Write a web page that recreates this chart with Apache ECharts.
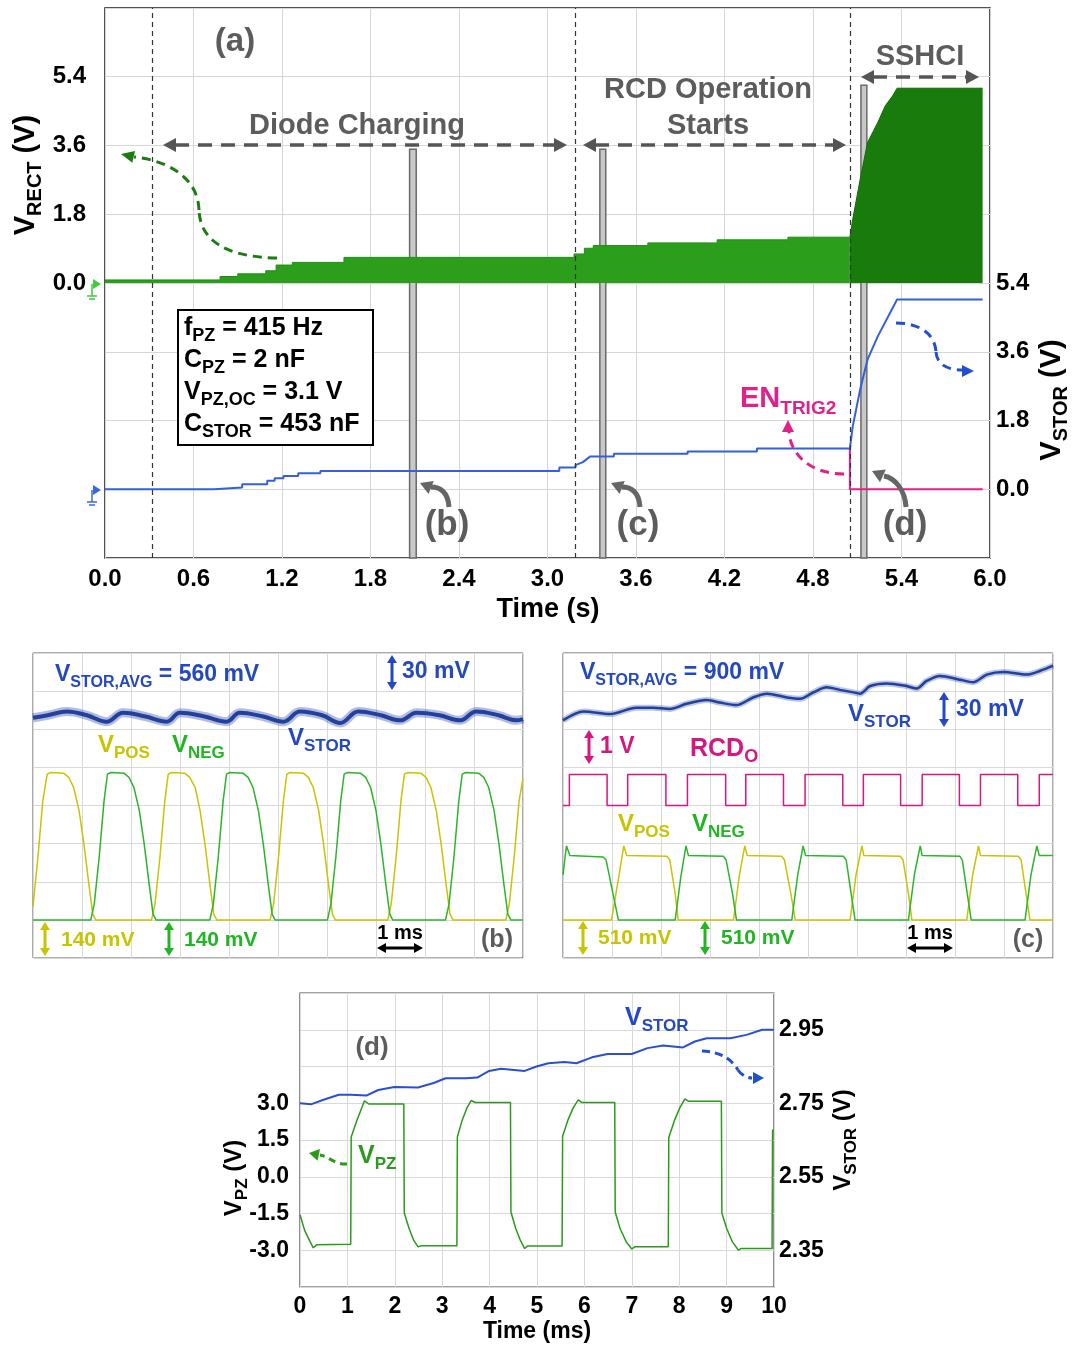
<!DOCTYPE html>
<html><head><meta charset="utf-8">
<script src="https://cdn.jsdelivr.net/npm/echarts@6/dist/echarts.min.js"></script>
<style>html,body{margin:0;padding:0;background:#fff}#c{width:1076px;height:1349px}</style>
</head><body><div id="c"></div>
<script>
const FF = '"Liberation Sans", Arial, Helvetica, sans-serif';

// ================= DATA =================
// Panel (a): time in s
const rectDiode = [[0,0.08],[0.78,0.08],[0.78,0.17],[0.90,0.17],[0.90,0.24],[1.09,0.24],[1.09,0.32],[1.16,0.32],[1.16,0.47],[1.27,0.47],[1.27,0.54],[1.62,0.54],[1.62,0.67],[3.18,0.67],[3.18,0.76],[3.25,0.76],[3.25,0.91],[3.31,0.91],[3.31,0.98],[3.68,0.98],[3.68,1.05],[4.15,1.05],[4.15,1.13],[4.63,1.13],[4.63,1.20],[5.05,1.20]];
const rectSSHCI = [[5.05,1.20],[5.07,1.68],[5.12,2.72],[5.17,3.68],[5.24,4.21],[5.29,4.64],[5.34,4.90],[5.37,5.10],[5.95,5.10]];
const storA = [[0,0],[0.74,0],[0.74,0.045],[0.93,0.045],[0.93,0.13],[1.10,0.13],[1.10,0.22],[1.15,0.22],[1.15,0.29],[1.21,0.29],[1.21,0.35],[1.31,0.35],[1.31,0.42],[1.46,0.42],[1.46,0.48],[3.08,0.48],[3.08,0.57],[3.19,0.57],[3.19,0.63],[3.24,0.71],[3.29,0.86],[3.45,0.86],[3.45,0.93],[3.95,0.93],[3.95,0.99],[4.42,0.99],[4.42,1.07],[5.05,1.07],[5.07,1.66],[5.12,2.62],[5.17,3.40],[5.24,4.01],[5.37,4.97],[5.95,4.97]];
const enTrigA = [[5.05,1.07],[5.05,0],[5.95,0]];
const phaseLines = [0.315, 3.19, 5.05];
const cursorBars = [[2.065,2.11,3.5],[3.355,3.395,3.5],[5.125,5.165,5.18]];
const aTimeTicks = ['0.0','0.6','1.2','1.8','2.4','3.0','3.6','4.2','4.8','5.4','6.0'];

// Panel (b): time in ms
const storB = [[0,0.559],[0.3,0.561],[0.69,0.564],[1.1,0.561],[1.5,0.556],[1.84,0.563],[2.3,0.560],[2.73,0.556],[3.0,0.563],[3.5,0.560],[3.95,0.556],[4.22,0.563],[4.7,0.560],[5.11,0.556],[5.45,0.564],[5.9,0.561],[6.27,0.555],[6.64,0.564],[7.1,0.561],[7.49,0.557],[7.83,0.563],[8.3,0.561],[8.71,0.557],[9.05,0.564],[9.5,0.561],[9.87,0.557],[10,0.558]];
const posB = [[0,0.05],[0.1,0.229],[0.2,0.437],[0.29,0.535],[0.36,0.541],[0.63,0.538],[0.73,0.523],[0.83,0.486],[0.94,0.401],[1.04,0.278],[1.14,0.131],[1.22,0.021],[1.28,0],
  [2.42,0],[2.49,0.058],[2.59,0.229],[2.69,0.437],[2.76,0.535],[2.83,0.541],[3.10,0.538],[3.20,0.523],[3.31,0.486],[3.41,0.401],[3.51,0.278],[3.61,0.131],[3.69,0.021],[3.75,0],
  [4.84,0],[4.91,0.058],[5.01,0.229],[5.11,0.437],[5.18,0.535],[5.25,0.541],[5.52,0.538],[5.62,0.523],[5.72,0.486],[5.83,0.401],[5.93,0.278],[6.03,0.131],[6.11,0.021],[6.17,0],
  [7.24,0],[7.31,0.058],[7.41,0.229],[7.51,0.437],[7.58,0.535],[7.65,0.541],[7.92,0.538],[8.02,0.523],[8.12,0.486],[8.23,0.401],[8.33,0.278],[8.43,0.131],[8.51,0.021],[8.57,0],
  [9.65,0],[9.72,0.058],[9.82,0.229],[9.92,0.437],[10,0.52]];
const negB = [[0,0],[1.18,0],[1.25,0.058],[1.35,0.229],[1.45,0.437],[1.52,0.535],[1.59,0.541],[1.86,0.538],[1.96,0.523],[2.06,0.486],[2.17,0.401],[2.27,0.278],[2.37,0.131],[2.45,0.021],[2.51,0],
  [3.61,0],[3.68,0.058],[3.78,0.229],[3.88,0.437],[3.95,0.535],[4.02,0.541],[4.29,0.538],[4.39,0.523],[4.49,0.486],[4.60,0.401],[4.70,0.278],[4.80,0.131],[4.88,0.021],[4.94,0],
  [6.01,0],[6.08,0.058],[6.18,0.229],[6.28,0.437],[6.35,0.535],[6.42,0.541],[6.69,0.538],[6.79,0.523],[6.89,0.486],[7.00,0.401],[7.10,0.278],[7.20,0.131],[7.28,0.021],[7.34,0],
  [8.42,0],[8.49,0.058],[8.59,0.229],[8.69,0.437],[8.76,0.535],[8.83,0.541],[9.10,0.538],[9.20,0.523],[9.30,0.486],[9.41,0.401],[9.51,0.278],[9.61,0.131],[9.69,0.021],[9.75,0],[10,0]];

// Panel (c): time in ms
const storC = [[0,0.877],[0.42,0.884],[0.96,0.882],[1.50,0.887],[1.84,0.887],[2.18,0.886],[2.52,0.890],[2.93,0.893],[3.20,0.891],[3.54,0.889],[3.88,0.895],[4.16,0.898],[4.57,0.895],[4.84,0.894],[5.11,0.899],[5.38,0.903],[5.65,0.901],[5.93,0.899],[6.06,0.898],[6.27,0.904],[6.61,0.906],[7.01,0.904],[7.22,0.902],[7.42,0.908],[7.69,0.912],[8.10,0.909],[8.37,0.907],[8.65,0.913],[8.99,0.915],[9.46,0.913],[9.74,0.916],[10,0.920]];
const rcdC = [[0,0],[0.13,0],[0.13,0.81],[0.90,0.81],[0.90,0],[1.32,0],[1.32,0.81],[2.10,0.81],[2.10,0],[2.54,0],[2.54,0.81],[3.32,0.81],[3.32,0],[3.73,0],[3.73,0.81],[4.50,0.81],[4.50,0],[4.94,0],[4.94,0.81],[5.71,0.81],[5.71,0],[6.13,0],[6.13,0.81],[6.89,0.81],[6.89,0],[7.33,0],[7.33,0.81],[8.09,0.81],[8.09,0],[8.52,0],[8.52,0.81],[9.28,0.81],[9.28,0],[9.72,0],[9.72,0.81],[10,0.81]];
const negC = [[0,0.6],[0.07,0.99],[0.14,0.86],[0.82,0.84],[0.88,0.80],[1.02,0.35],[1.13,0],
  [2.29,0],[2.41,0.6],[2.51,0.99],[2.56,0.86],[3.27,0.85],[3.33,0.80],[3.46,0.35],[3.54,0],
  [4.67,0],[4.79,0.6],[4.90,0.99],[4.95,0.86],[5.72,0.85],[5.78,0.80],[5.88,0.35],[5.96,0],
  [7.05,0],[7.17,0.6],[7.29,0.99],[7.33,0.86],[8.10,0.85],[8.15,0.80],[8.25,0.35],[8.33,0],
  [9.43,0],[9.55,0.6],[9.67,0.99],[9.72,0.86],[10,0.86]];
const posC = [[0,0],[0.99,0],[1.12,0.5],[1.24,0.99],[1.30,0.86],[2.12,0.85],[2.18,0.80],[2.29,0.35],[2.35,0],
  [3.48,0],[3.60,0.6],[3.71,0.99],[3.76,0.86],[4.46,0.85],[4.52,0.80],[4.65,0.35],[4.74,0],
  [5.86,0],[5.98,0.6],[6.10,0.99],[6.14,0.86],[6.88,0.85],[6.94,0.80],[7.05,0.35],[7.12,0],
  [8.24,0],[8.36,0.6],[8.48,0.99],[8.52,0.86],[9.29,0.85],[9.35,0.80],[9.45,0.35],[9.53,0],[10,0]];

// Panel (d): time in ms
const storD = [[0,2.75],[0.23,2.747],[0.48,2.759],[0.82,2.773],[1.07,2.773],[1.40,2.771],[1.65,2.786],[1.99,2.794],[2.49,2.793],[2.82,2.805],[3.07,2.818],[3.49,2.818],[3.74,2.820],[3.99,2.838],[4.24,2.844],[4.74,2.838],[4.99,2.850],[5.24,2.859],[5.58,2.862],[5.83,2.859],[6.16,2.875],[6.49,2.884],[7.0,2.884],[7.33,2.900],[7.66,2.907],[8.08,2.902],[8.33,2.918],[8.58,2.927],[9.08,2.927],[9.42,2.936],[9.75,2.950],[10,2.950]];
const vpzD = [[0,-1.55],[0.1,-2.2],[0.2,-2.6],[0.28,-2.9],[0.35,-2.78],[1.07,-2.76],[1.08,1.62],[1.2,2.3],[1.3,2.8],[1.36,3.1],[1.45,2.97],[2.19,2.97],[2.2,-1.48],[2.3,-2.1],[2.4,-2.6],[2.49,-2.86],[2.55,-2.82],[3.31,-2.82],[3.32,1.62],[3.42,2.3],[3.52,2.8],[3.61,3.11],[3.7,3.03],[4.44,3.03],[4.45,-1.44],[4.55,-2.1],[4.65,-2.6],[4.74,-2.93],[4.8,-2.83],[5.53,-2.83],[5.54,1.65],[5.65,2.3],[5.76,2.8],[5.87,3.14],[5.95,3.03],[6.64,3.03],[6.65,-1.44],[6.75,-2.1],[6.88,-2.65],[7.0,-2.95],[7.06,-2.86],[7.77,-2.86],[7.78,1.6],[7.9,2.3],[8.01,2.8],[8.12,3.18],[8.2,3.08],[8.89,3.08],[8.9,-1.48],[9.0,-2.1],[9.12,-2.65],[9.25,-3.0],[9.3,-2.93],[9.96,-2.93],[9.97,1.9],[10,1.9]];

// ================= STYLE =================
const BL = '#2448c0', YE = '#c8c400', GR = '#22b522', MG = '#d6177f', GRAY = '#5c5c5c';
const MGA = '#e0218a', BLA = '#3461d9';

const mctx = document.createElement('canvas').getContext('2d');
function tw(str, size) { mctx.font = 'bold ' + size + 'px ' + FF; return mctx.measureText(str).width; }
// text with subscripts: segs = [[text, isSub], ...]; y = centre of the main text
function rtext(x, y, segs, o) {
  const m = o.size, s = o.sub || Math.round(m * 0.68), off = (o.off != null) ? o.off : 0.34 * m;
  let cx = 0; const kids = [];
  segs.forEach(g => {
    const sz = g[1] ? s : m;
    kids.push({type: 'text', x: cx, y: g[1] ? off : 0, z: 100,
      style: {text: g[0], font: 'bold ' + sz + 'px ' + FF, fill: o.color, align: 'left', verticalAlign: 'middle'}});
    cx += tw(g[0], sz);
  });
  const shift = o.align === 'center' ? -cx / 2 : (o.align === 'right' ? -cx : 0);
  kids.forEach(k => { k.x += shift; });
  return {type: 'group', x: x, y: y, rotation: o.rot || 0, z: 100, children: kids};
}
function plain(x, y, str, size, color, align) {
  return {type: 'text', x: x, y: y, z: 100, style: {text: str, font: 'bold ' + size + 'px ' + FF, fill: color, align: align || 'left', verticalAlign: 'middle'}};
}
function head(x, y, ang, len, wid, color) {
  const c = Math.cos(ang), s = Math.sin(ang);
  return {type: 'polygon', z: 100, shape: {points: [[x, y], [x - len * c - wid * s, y - len * s + wid * c], [x - len * c + wid * s, y - len * s - wid * c]]}, style: {fill: color}};
}
function line(x1, y1, x2, y2, color, w, dash) {
  return {type: 'line', z: 100, shape: {x1, y1, x2, y2}, style: {stroke: color, lineWidth: w, lineDash: dash || null}};
}
function bez(p0, p1, p2, p3, color, w, dash) {
  return {type: 'bezierCurve', z: 100, shape: {x1: p0[0], y1: p0[1], cpx1: p1[0], cpy1: p1[1], cpx2: p2[0], cpy2: p2[1], x2: p3[0], y2: p3[1]}, style: {stroke: color, lineWidth: w, lineDash: dash || null, fill: null}};
}
function hDouble(x1, x2, y, color, w, dash, L, W) {
  return [line(x1 + L - 1, y, x2 - L + 1, y, color, w, dash), head(x1, y, Math.PI, L, W, color), head(x2, y, 0, L, W, color)];
}
function vDouble(x, y1, y2, color) {
  return [line(x, y1 + 7, x, y2 - 7, color, 3), head(x, y1, -Math.PI / 2, 8, 5, color), head(x, y2, Math.PI / 2, 8, 5, color)];
}

const G = [];
// ---- panel (a) annotations
G.push(plain(235, 42, '(a)', 33, GRAY, 'center'));
G.push(plain(357, 126, 'Diode Charging', 29, GRAY, 'center'));
G.push(plain(708, 90, 'RCD Operation', 29, GRAY, 'center'));
G.push(plain(708, 126, 'Starts', 29, GRAY, 'center'));
G.push(plain(920, 57, 'SSHCI', 29, GRAY, 'center'));
G.push(...hDouble(163, 567, 145, '#555', 3.5, [14, 9], 13, 7));
G.push(...hDouble(583, 846, 145, '#555', 3.5, [14, 9], 13, 7));
G.push(...hDouble(861, 979, 77, '#555', 3.5, [14, 9], 13, 7));
G.push(bez([277, 258], [225, 257], [200, 240], [199, 210], '#1e7a12', 3, [9, 6]));
G.push(bez([199, 210], [198, 176], [165, 160], [134, 157], '#1e7a12', 3, [9, 6]));
G.push(head(121, 154, Math.atan2(-3, -13), 13, 6, '#1e7a12'));
G.push(bez([896, 323], [918, 323], [935, 333], [936, 352], '#2050d0', 3, [9, 6]));
G.push(bez([936, 352], [937, 366], [950, 370], [962, 370], '#2050d0', 3, [9, 6]));
G.push(head(974, 371, 0, 12, 6, '#2050d0'));
G.push(bez([844, 474], [808, 474], [790, 452], [789, 432], MGA, 3, [9, 6]));
G.push(head(788, 420, -Math.PI / 2, 12, 6, MGA));
G.push(rtext(740, 399, [['EN'], ['TRIG2', 1]], {size: 29, sub: 19, color: MGA}));
G.push(bez([449, 507], [448, 492], [440, 487], [431, 487], '#666', 5));
G.push(head(420, 483, Math.atan2(-4, -10), 12, 7, '#666'));
G.push(bez([640, 507], [639, 492], [631, 487], [622, 487], '#666', 5));
G.push(head(611, 483, Math.atan2(-4, -10), 12, 7, '#666'));
G.push(bez([906, 507], [905, 490], [895, 478], [884, 476], '#666', 5));
G.push(head(872, 471, Math.atan2(-5, -11), 12, 7, '#666'));
G.push(plain(447, 525, '(b)', 35, GRAY, 'center'));
G.push(plain(638, 525, '(c)', 35, GRAY, 'center'));
G.push(plain(905, 525, '(d)', 35, GRAY, 'center'));
G.push({type: 'rect', z: 100, shape: {x: 178, y: 310, width: 195, height: 135}, style: {fill: '#fff', stroke: '#000', lineWidth: 2}});
G.push(rtext(184, 328, [['f'], ['PZ', 1], [' = 415 Hz']], {size: 25, sub: 18, color: '#000'}));
G.push(rtext(184, 360, [['C'], ['PZ', 1], [' = 2 nF']], {size: 25, sub: 18, color: '#000'}));
G.push(rtext(184, 392, [['V'], ['PZ,OC', 1], [' = 3.1 V']], {size: 25, sub: 18, color: '#000'}));
G.push(rtext(184, 424, [['C'], ['STOR', 1], [' = 453 nF']], {size: 25, sub: 18, color: '#000'}));
G.push(rtext(26, 175, [['V'], ['RECT', 1], [' (V)']], {size: 29, sub: 20, color: '#000', rot: Math.PI / 2, align: 'center'}));
G.push(rtext(1052, 400, [['V'], ['STOR', 1], [' (V)']], {size: 29, sub: 20, color: '#000', rot: Math.PI / 2, align: 'center'}));
G.push(plain(548, 610, 'Time (s)', 27, '#000', 'center'));
G.push(head(101, 284, 0, 8, 5, '#3ccc3c'), line(92, 284, 92, 296, '#3ccc3c', 1.5), line(87, 296, 97, 296, '#3ccc3c', 1.5), line(89, 299, 95, 299, '#3ccc3c', 1.5));
G.push(head(101, 490, 0, 8, 5, '#3a66e0'), line(92, 490, 92, 502, '#3a66e0', 1.5), line(87, 502, 97, 502, '#3a66e0', 1.5), line(89, 505, 95, 505, '#3a66e0', 1.5));

// ---- panel (b)
G.push(rtext(55, 675, [['V'], ['STOR,AVG', 1], [' = 560 mV']], {size: 23, sub: 16, color: BL}));
G.push(...vDouble(392, 655, 690, BL));
G.push(plain(402, 672, '30 mV', 23, BL));
G.push(rtext(98, 745, [['V'], ['POS', 1]], {size: 24, sub: 17, color: YE}));
G.push(rtext(172, 745, [['V'], ['NEG', 1]], {size: 24, sub: 17, color: GR}));
G.push(rtext(288, 738, [['V'], ['STOR', 1]], {size: 24, sub: 17, color: BL}));
G.push(...vDouble(45, 922, 956, YE));
G.push(plain(61, 940, '140 mV', 21, YE));
G.push(...vDouble(169, 922, 956, GR));
G.push(plain(184, 940, '140 mV', 21, GR));
G.push(plain(400, 933, '1 ms', 20, '#000', 'center'));
G.push(...hDouble(377, 423, 948, '#000', 3, null, 9, 5));
G.push(plain(497, 940, '(b)', 25, GRAY, 'center'));

// ---- panel (c)
G.push(rtext(580, 673, [['V'], ['STOR,AVG', 1], [' = 900 mV']], {size: 23, sub: 16, color: BL}));
G.push(rtext(848, 714, [['V'], ['STOR', 1]], {size: 24, sub: 17, color: BL}));
G.push(...vDouble(944, 692, 727, BL));
G.push(plain(956, 710, '30 mV', 23, BL));
G.push(...vDouble(589, 730, 764, MG));
G.push(plain(600, 747, '1 V', 23, MG));
G.push(rtext(690, 749, [['RCD'], ['O', 1]], {size: 25, sub: 18, color: MG}));
G.push(rtext(618, 824, [['V'], ['POS', 1]], {size: 24, sub: 17, color: YE}));
G.push(rtext(692, 824, [['V'], ['NEG', 1]], {size: 24, sub: 17, color: GR}));
G.push(...vDouble(583, 921, 955, YE));
G.push(plain(598, 938, '510 mV', 21, YE));
G.push(...vDouble(705, 921, 955, GR));
G.push(plain(721, 938, '510 mV', 21, GR));
G.push(plain(930, 933, '1 ms', 20, '#000', 'center'));
G.push(...hDouble(907, 953, 948, '#000', 3, null, 9, 5));
G.push(plain(1028, 940, '(c)', 25, GRAY, 'center'));

// ---- panel (d)
G.push(plain(372, 1048, '(d)', 26, GRAY, 'center'));
G.push(rtext(625, 1018, [['V'], ['STOR', 1]], {size: 25, sub: 17, color: BL}));
G.push(bez([702, 1051], [722, 1052], [732, 1060], [738, 1070], '#2050d0', 3, [8, 5]));
G.push(bez([738, 1070], [742, 1076], [748, 1078], [752, 1078], '#2050d0', 3, [8, 5]));
G.push(head(764, 1078, 0, 11, 6, '#2050d0'));
G.push(rtext(358, 1156, [['V'], ['PZ', 1]], {size: 25, sub: 17, color: '#2a9a1a'}));
G.push(bez([347, 1164], [335, 1165], [328, 1156], [320, 1155], '#2a9a1a', 3, [7, 5]));
G.push(head(309, 1153, Math.atan2(-2, -10), 10, 6, '#2a9a1a'));
G.push(rtext(234, 1178, [['V'], ['PZ', 1], [' (V)']], {size: 24, sub: 17, color: '#000', rot: Math.PI / 2, align: 'center'}));
G.push(rtext(843, 1140, [['V'], ['STOR', 1], [' (V)']], {size: 24, sub: 17, color: '#000', rot: Math.PI / 2, align: 'center'}));
G.push(plain(537, 1332, 'Time (ms)', 23, '#000', 'center'));

// ================= AXES =================
const lab = (size, margin) => ({fontSize: size, fontWeight: 'bold', color: '#000', fontFamily: FF, margin: margin});
const gridLine = c => ({show: true, lineStyle: {color: c || '#d6d6d6', width: 1}});
const noLine = {show: false};
const scopeX = gi => ({gridIndex: gi, type: 'value', min: 0, max: 10, interval: 1, axisLine: noLine, axisTick: noLine, axisLabel: {show: false}, splitLine: gridLine('#d9d9d9')});

const xAxis = [
  {gridIndex: 0, type: 'value', min: 0, max: 6, interval: 0.6, axisLine: noLine, axisTick: noLine, splitLine: gridLine(),
   axisLabel: Object.assign(lab(24, 9), {formatter: v => aTimeTicks[Math.round(v / 0.6)] || ''})},
  scopeX(1), scopeX(2),
  {gridIndex: 3, type: 'value', min: 0, max: 10, interval: 1, axisLine: noLine, axisTick: noLine, splitLine: gridLine('#d9d9d9'),
   axisLabel: Object.assign(lab(23, 8), {formatter: v => String(Math.round(v))})}
];
const fmtRange = (lo, hi) => v => { const r = Math.round(v * 10) / 10; return (r >= lo - 1e-9 && r <= hi + 1e-9) ? (r < 0 ? '-' : '') + Math.abs(r).toFixed(1) : ''; };
const yAxis = [
  {gridIndex: 0, type: 'value', min: -7.2, max: 7.2, interval: 1.8, position: 'left', axisLine: noLine, axisTick: noLine, splitLine: gridLine(), axisLabel: Object.assign(lab(24, 19), {formatter: fmtRange(0, 5.4)})},
  {gridIndex: 0, type: 'value', min: -1.8, max: 12.6, interval: 1.8, position: 'right', axisLine: noLine, axisTick: noLine, splitLine: noLine, axisLabel: Object.assign(lab(24, 6), {formatter: fmtRange(0, 5.4)})},
  {gridIndex: 1, type: 'value', min: -0.14, max: 0.98, interval: 0.14, axisLine: noLine, axisTick: noLine, axisLabel: {show: false}, splitLine: gridLine('#d9d9d9')},
  {gridIndex: 1, type: 'value', min: 0.37, max: 0.61, show: false, splitLine: noLine},
  {gridIndex: 2, type: 'value', min: -0.51, max: 3.57, interval: 0.51, axisLine: noLine, axisTick: noLine, axisLabel: {show: false}, splitLine: gridLine('#d9d9d9')},
  {gridIndex: 2, type: 'value', min: -4, max: 4, show: false, splitLine: noLine},
  {gridIndex: 2, type: 'value', min: 0.69, max: 0.93, show: false, splitLine: noLine},
  {gridIndex: 3, type: 'value', min: -4.5, max: 7.5, interval: 1.5, position: 'left', axisLine: noLine, axisTick: noLine, splitLine: gridLine('#d9d9d9'), axisLabel: Object.assign(lab(23, 11), {formatter: fmtRange(-3, 3)})},
  {gridIndex: 3, type: 'value', min: -4.5, max: 7.5, interval: 1.5, position: 'right', axisLine: noLine, axisTick: noLine, splitLine: noLine,
   axisLabel: Object.assign(lab(23, 5), {formatter: v => { const r = Math.round(v * 10) / 10; return [-3, 0, 3, 6].indexOf(r) >= 0 ? (2.55 + r / 15).toFixed(2) : ''; }})},
  {gridIndex: 3, type: 'value', min: 2.25, max: 3.05, show: false, splitLine: noLine}
];

const L = (name, xi, yi, data, color, width, z, extra) => Object.assign({name, type: 'line', xAxisIndex: xi, yAxisIndex: yi, data, symbol: 'none', showSymbol: false, silent: true, lineStyle: {color, width}, z: z || 2}, extra || {});

const series = [
  L('VRECT diode', 0, 0, rectDiode, '#1f8f12', 1, 2, {areaStyle: {color: '#2b9e1b', opacity: 1}}),
  L('VRECT SSHCI', 0, 0, rectSSHCI, '#146a08', 1, 2, {areaStyle: {color: '#1a7b0d', opacity: 1}}),
  L('EN_TRIG2', 0, 1, enTrigA, MGA, 2, 3),
  L('VSTOR a', 0, 1, storA, BLA, 2, 4),
  {name: 'markers', type: 'line', xAxisIndex: 0, yAxisIndex: 0, data: [], z: 6, silent: true,
   markLine: {silent: true, symbol: ['none', 'none'], label: {show: false}, lineStyle: {type: [5, 4], color: '#333', width: 1.2}, data: phaseLines.map(t => ({xAxis: t}))},
   markArea: {silent: true, itemStyle: {color: '#c8c8c8', borderColor: '#6a6a6a', borderWidth: 1.5}, data: cursorBars.map(b => [{xAxis: b[0], yAxis: -7.2}, {xAxis: b[1], yAxis: b[2]}])}},
  L('VSTOR b halo', 1, 3, storB, 'rgba(34,64,158,0.35)', 9, 3, {smooth: 0.4}),
  L('VSTOR b', 1, 3, storB, '#22409e', 4, 3, {smooth: 0.4}),
  L('VPOS b', 1, 2, posB, YE, 1.5, 4),
  L('VNEG b', 1, 2, negB, '#2bb52b', 1.5, 4),
  L('VSTOR c halo', 2, 6, storC, 'rgba(34,64,158,0.3)', 6, 3, {smooth: 0.3}),
  L('VSTOR c', 2, 6, storC, '#22409e', 2.5, 3, {smooth: 0.3}),
  L('RCDO c', 2, 5, rcdC, MG, 1.5, 4),
  L('VPOS c', 2, 4, posC, YE, 1.5, 4),
  L('VNEG c', 2, 4, negC, '#2bb52b', 1.5, 4),
  L('VSTOR d', 3, 9, storD, '#2a4fd0', 2, 3),
  L('VPZ d', 3, 7, vpzD, '#2a9a1a', 1.5, 4)
];

const chart = echarts.init(document.getElementById('c'), null, {renderer: 'canvas'});
chart.setOption({
  animation: false,
  backgroundColor: '#fff',
  grid: [
    {left: 105, top: 8, width: 885, height: 550, show: true, borderColor: '#1a1a1a', borderWidth: 1.5, containLabel: false},
    {left: 33, top: 653, width: 490, height: 305, show: true, borderColor: '#5a5a5a', borderWidth: 1, containLabel: false},
    {left: 563, top: 653, width: 490, height: 305, show: true, borderColor: '#5a5a5a', borderWidth: 1, containLabel: false},
    {left: 300, top: 993, width: 474, height: 294, show: true, borderColor: '#444', borderWidth: 1.2, containLabel: false}
  ],
  xAxis, yAxis, series,
  graphic: {elements: G}
});
</script></body></html>
